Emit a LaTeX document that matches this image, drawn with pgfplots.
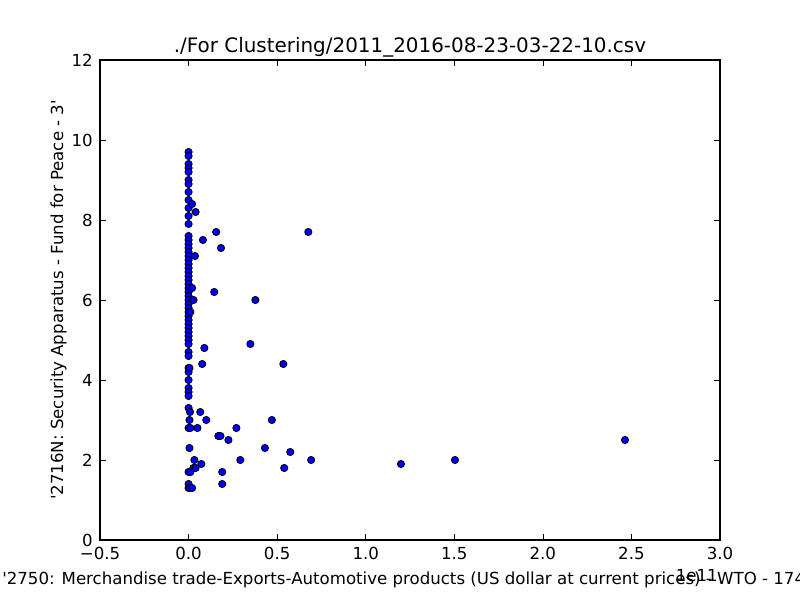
\documentclass[border=0pt]{standalone}
\usepackage{fontspec}
\setmainfont{DejaVu Sans}[Ligatures=TeXOff]
\usepackage{pgfplots}
\pgfplotsset{compat=1.18}
\begin{document}
\fontsize{12}{14}\selectfont
\begin{tikzpicture}[x=1in,y=1in]
\useasboundingbox (-1,-0.6) rectangle (7,5.4);
\clip (-1,-0.6) rectangle (7,5.4);
\begin{axis}[
  at={(0,0)}, anchor=south west,
  scale only axis, width=6.2in, height=4.8in,
  xmin=-0.5, xmax=3.0, ymin=0, ymax=12,
  xtick={-0.5,0,0.5,1,1.5,2,2.5,3},
  xticklabels={−0.5,0.0,0.5,1.0,1.5,2.0,2.5,3.0},
  ytick={0,2,4,6,8,10,12},
  tick pos=both, tick align=inside,
  major tick length=4pt,
  every tick/.style={black, line width=0.5pt},
  axis line style={black, line width=1pt},
  /pgf/number format/assume math mode=true,
  xticklabel style={anchor=base, inner sep=0pt, yshift=-0.2in, font=\fontsize{12}{14}\selectfont},
  yticklabel style={anchor=east, inner sep=0pt, xshift=-5pt, font=\fontsize{12}{14}\selectfont},
  scaled x ticks=false,
  clip=false,
]
\addplot[only marks, mark=*, mark size=2.6pt, mark options={fill=blue, draw=black, line width=0.6pt}] coordinates {
(0,9.7) (0,9.6) (0,9.4) (0,9.3) (0,9.2) (0,9.0) (0,8.9) (0,8.7) (0,8.5) (0,8.3) (0,8.1) (0,7.9)
(0,7.6) (0,7.5) (0,7.4) (0,7.3) (0,7.2) (0,7.1) (0,7.0) (0,6.9) (0,6.8) (0,6.7) (0,6.6) (0,6.5)
(0,6.4) (0,6.3) (0,6.2) (0,6.1) (0,6.0) (0,5.9) (0,5.8) (0,5.7) (0,5.6) (0,5.5) (0,5.4) (0,5.3)
(0,5.2) (0,5.1) (0,5.0) (0,4.9) (0,4.7) (0,4.6) (0,4.3) (0,4.2) (0,4.0) (0,3.8) (0,3.7) (0,3.6)
(0,3.3) (0,2.8) (0,1.7) (0,1.4) (0,1.3)
(0.02,8.4) (0.04,8.2) (0.156,7.7) (0.081,7.5) (0.183,7.3) (0.036,7.1) (0.02,6.3) (0.028,6.0) (0.01,5.7)
(0.145,6.2) (0.377,6.0) (0.676,7.7) (0.349,4.9) (0.089,4.8) (0.077,4.4) (0.535,4.4) (0.005,4.3)
(0.008,3.2) (0.066,3.2) (0.005,3.0) (0.1,3.0) (0.47,3.0)
(0.01,2.8) (0.05,2.8) (0.27,2.8) (0.168,2.6) (0.18,2.6) (0.225,2.5) (2.464,2.5)
(0.005,2.3) (0.431,2.3) (0.574,2.2) (0.033,2.0) (0.292,2.0) (0.692,2.0) (1.504,2.0)
(0.072,1.9) (1.199,1.9) (0.027,1.8) (0.04,1.8) (0.54,1.8) (0.01,1.7) (0.19,1.7)
(0.19,1.4) (0.005,1.3) (0.02,1.3)
};
\end{axis}
\node[anchor=base, font=\fontsize{14.4}{17}\selectfont] at (3.1,4.87) {./For Clustering/2011\_2016-08-23-03-22-10.csv};
\node[rotate=90, anchor=base] at (-0.37,2.4) {'2716N: Security Apparatus - Fund for Peace - 3'};
\node[anchor=base west, inner sep=0pt] at (-0.98,-0.44) {'2750: Merchandise trade-Exports-Automotive products (US dollar at current prices) - WTO - 174'};
\node[anchor=base east, inner sep=0pt] at (6.18,-0.41) {1e11};
\end{tikzpicture}
\end{document}
